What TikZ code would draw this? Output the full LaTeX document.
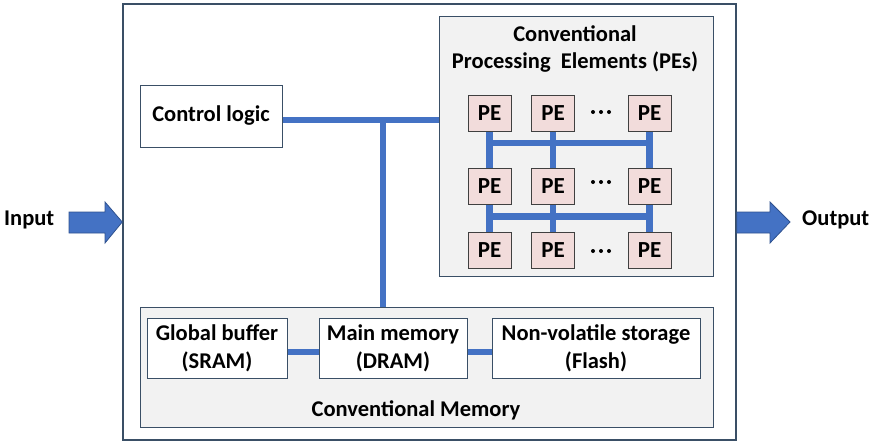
\documentclass[tikz,border=0pt]{standalone}
\usepackage{fontspec}
\setmainfont{Carlito}
\usetikzlibrary{calc}
\definecolor{busblue}{HTML}{4472C4}
\definecolor{arrowedge}{HTML}{2F528F}
\definecolor{frameline}{HTML}{3A4F66}
\definecolor{panelfill}{HTML}{F2F2F2}
\definecolor{pefill}{HTML}{F2DCDB}
\definecolor{peline}{HTML}{404040}
\tikzset{
  lbl/.style={font=\bfseries\fontsize{22.5}{27}\selectfont, align=center, inner sep=0pt},
  panel/.style={draw=frameline, line width=1pt, fill=panelfill},
  unitbox/.style={draw=frameline, line width=1pt, fill=white, inner sep=0pt, font=\bfseries\fontsize{22.5}{28}\selectfont, align=center},
  pebox/.style={draw=peline, line width=1pt, fill=pefill, minimum width=43pt, minimum height=36pt, inner sep=0pt, font=\bfseries\fontsize{23}{25}\selectfont},
  bus/.style={draw=busblue, line width=6.5pt},
  fatarrow/.style={fill=busblue, draw=arrowedge, line width=0.8pt},
  dot/.style={circle, fill=black, minimum size=4pt, inner sep=0pt}
}
\begin{document}
\begin{tikzpicture}[x=1pt,y=-1pt]
\useasboundingbox (0,0) rectangle (872,442);

% outer chip frame
\node[draw=frameline, line width=1.5pt, minimum width=613pt, minimum height=436pt, inner sep=0pt] (chip) at (429.5,222) {};

% processing-element panel
\node[panel, minimum width=274pt, minimum height=260pt, inner sep=0pt] (pepanel) at (576,146) {};
\node[lbl] (petitle) at (575,48.5) {Conventional\\Processing\ \ Elements (PEs)};

% memory panel
\node[panel, minimum width=573pt, minimum height=120pt, inner sep=0pt] (mem) at (426.5,367) {};
\node[lbl] (memtitle) at (416,410) {Conventional Memory};

% control logic
\node[unitbox, minimum width=142pt, minimum height=62pt] (ctrl) at (211,116) {Control logic};
\coordinate (bus) at (383,120);

% memory units
\node[unitbox, minimum width=140pt, minimum height=60pt] (gb) at (217,348) {Global buffer\\(SRAM)};
\node[unitbox, minimum width=148pt, minimum height=60pt] (mm) at (393,348) {Main memory\\(DRAM)};
\node[unitbox, minimum width=208pt, minimum height=60pt] (nv) at (596,348) {Non-volatile storage\\(Flash)};

% PE grid positions
\coordinate (p11) at (489.5,113); \coordinate (p12) at (553,113); \coordinate (p13) at (649.5,113);
\coordinate (p21) at (489.5,186); \coordinate (p22) at (553,186); \coordinate (p23) at (649.5,186);
\coordinate (p31) at (489.5,250); \coordinate (p32) at (553,250); \coordinate (p33) at (649.5,250);

% interconnect buses (behind the boxes)
\draw[bus] (ctrl.east |- bus) -- (bus -| pepanel.west);
\draw[bus] (bus) -- (bus |- mem.north);
\draw[bus] ([yshift=-4pt]gb.east) -- ([yshift=-4pt]mm.west);
\draw[bus] ([yshift=-4pt]mm.east) -- ([yshift=-4pt]nv.west);
\foreach \c in {1,2,3}{
  \draw[bus] (p1\c) -- (p3\c);
}
\draw[bus] ($(p11)!0.41!(p21)$) -- ($(p13)!0.41!(p23)$);
\draw[bus] ($(p21)!0.48!(p31)$) -- ($(p23)!0.48!(p33)$);

% PE boxes
\foreach \r in {1,2,3}{
  \foreach \c in {1,2,3}{
    \node[pebox] (pe\r\c) at (p\r\c) {PE};
  }
}
% ellipsis dots between the second and last column
\foreach \r/\y in {1/112,2/182,3/251}{
  \foreach \k/\x in {1/593,2/601,3/609}{
    \node[dot] (dot\r\k) at (\x,\y) {};
  }
}

% input / output arrows
\coordinate (inTip) at (chip.west |- 0,222);
\draw[fatarrow] (69,212) -- (105,212) -- (105,202) -- (inTip) -- (105,243) -- (105,233) -- (69,233) -- cycle;
\node[lbl, anchor=west] (inlbl) at (4,220) {Input};

\coordinate (outBase) at (chip.east |- 0,222);
\draw[fatarrow] (outBase) ++(0,-10) -- (770,212) -- (770,202) -- (790,222) -- (770,243) -- (770,233) -- ($(outBase)+(0,11)$) -- cycle;
\node[lbl, anchor=west] (outlbl) at (802,220) {Output};
\end{tikzpicture}
\end{document}
